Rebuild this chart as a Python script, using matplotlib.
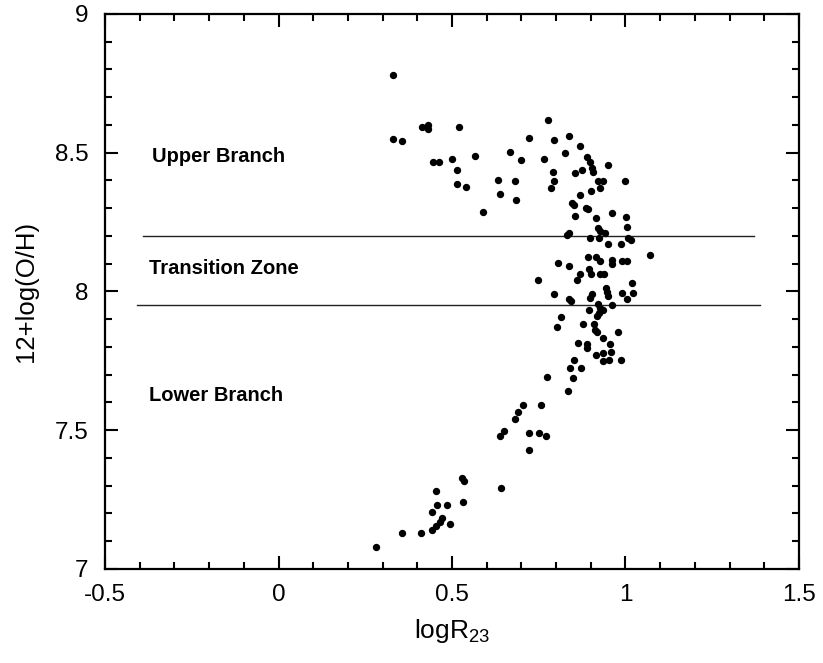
import matplotlib
matplotlib.use("Agg")
import matplotlib.pyplot as plt
from matplotlib.ticker import MultipleLocator

# logR23 and 12+log(O/H) for each galaxy
log_r23 = [
    0.331, 0.413, 0.432, 0.430, 0.519, 0.331, 0.357, 0.446, 0.463, 0.501,
    0.565, 0.514, 0.515, 0.540, 0.589, 0.633, 0.638, 0.776, 0.722, 0.793,
    0.836, 0.667, 0.698, 0.765, 0.825, 0.868, 0.889, 0.899, 0.950, 0.903,
    0.907, 0.874, 0.855, 0.792, 0.793, 0.785, 0.681, 0.685, 0.922, 0.934,
    0.927, 0.900, 0.869, 0.999, 0.846, 0.852, 0.886, 0.893, 0.960, 0.855,
    0.914, 1.001, 1.004, 0.922, 0.927, 0.940, 0.836, 0.832, 0.897, 0.925,
    0.951, 0.986, 1.008, 1.016, 1.071, 0.891, 0.915, 0.927, 0.960, 0.962,
    0.989, 1.003, 0.806, 0.837, 0.869, 0.895, 0.901, 0.927, 0.938, 0.747,
    0.861, 1.020, 0.944, 0.948, 0.950, 0.989, 1.023, 1.003, 0.795, 0.903,
    0.898, 0.838, 0.844, 0.920, 0.960, 0.927, 0.934, 0.895, 0.925, 0.813,
    0.917, 0.802, 0.878, 0.909, 0.912, 0.919, 0.978, 0.936, 0.864, 0.888,
    0.890, 0.955, 0.957, 0.915, 0.934, 0.934, 0.953, 0.987, 0.852, 0.840,
    0.871, 0.775, 0.850, 0.834, 0.706, 0.691, 0.757, 0.682, 0.651, 0.638,
    0.721, 0.752, 0.771, 0.721, 0.530, 0.535, 0.640, 0.453, 0.531, 0.458,
    0.486, 0.443, 0.470, 0.465, 0.454, 0.441, 0.494, 0.410, 0.355, 0.280,
]
oh = [
    8.779, 8.594, 8.600, 8.585, 8.594, 8.548, 8.541, 8.467, 8.468, 8.479,
    8.487, 8.437, 8.387, 8.376, 8.288, 8.402, 8.351, 8.617, 8.554, 8.545,
    8.561, 8.504, 8.474, 8.476, 8.500, 8.523, 8.486, 8.466, 8.457, 8.446,
    8.430, 8.437, 8.426, 8.430, 8.398, 8.373, 8.397, 8.329, 8.398, 8.398,
    8.372, 8.363, 8.348, 8.398, 8.320, 8.311, 8.300, 8.297, 8.284, 8.272,
    8.266, 8.270, 8.232, 8.228, 8.218, 8.212, 8.210, 8.203, 8.194, 8.194,
    8.171, 8.171, 8.194, 8.186, 8.132, 8.123, 8.125, 8.111, 8.114, 8.098,
    8.111, 8.111, 8.103, 8.093, 8.064, 8.081, 8.063, 8.063, 8.064, 8.041,
    8.041, 8.032, 8.012, 7.999, 7.985, 7.994, 7.994, 7.973, 7.991, 7.990,
    7.978, 7.973, 7.966, 7.955, 7.951, 7.939, 7.933, 7.932, 7.921, 7.909,
    7.912, 7.871, 7.883, 7.882, 7.861, 7.853, 7.853, 7.834, 7.813, 7.811,
    7.795, 7.811, 7.783, 7.771, 7.779, 7.751, 7.753, 7.753, 7.753, 7.723,
    7.723, 7.693, 7.687, 7.640, 7.592, 7.567, 7.591, 7.542, 7.498, 7.480,
    7.491, 7.491, 7.480, 7.430, 7.327, 7.318, 7.292, 7.281, 7.240, 7.231,
    7.231, 7.207, 7.183, 7.170, 7.156, 7.141, 7.162, 7.131, 7.131, 7.080,
]

# branch boundaries: (y, x_start, x_end)
zone_lines = [(8.2, -0.39, 1.37), (7.95, -0.408, 1.388)]
zone_labels = ["Upper Branch", "Transition Zone", "Lower Branch"]
zone_label_y = [8.467, 8.063, 7.605]
zone_label_x = [-0.365, -0.373, -0.373]


def main():
    plt.rcParams['font.family'] = ['Liberation Sans', 'DejaVu Sans']
    fig = plt.figure(figsize=(8.23, 6.63), dpi=100)
    ax = fig.add_axes([0.1276, 0.1418, 0.8432, 0.8371])

    ax.scatter(log_r23, oh, s=28, color='black', linewidths=0, zorder=3)

    for y, x0, x1 in zone_lines:
        ax.plot([x0, x1], [y, y], color='#222222', linewidth=1.0)

    for label, x, y in zip(zone_labels, zone_label_x, zone_label_y):
        ax.text(x, y, label, fontsize=14.5, fontweight='bold', ha='left', va='baseline')

    ax.set_xlim(-0.5, 1.5)
    ax.set_ylim(7, 9)
    ax.xaxis.set_minor_locator(MultipleLocator(0.1))
    ax.yaxis.set_minor_locator(MultipleLocator(0.1))
    ax.set_xticks([-0.5, 0, 0.5, 1, 1.5])
    ax.set_yticks([7, 7.5, 8, 8.5, 9])
    ax.set_xticklabels(['-0.5', '0', '0.5', '1', '1.5'])
    ax.set_yticklabels(['7', '7.5', '8', '8.5', '9'])

    ax.tick_params(which='both', direction='in', top=True, right=True, width=1.5)
    ax.tick_params(which='major', length=9.5, labelsize=17.5)
    ax.tick_params(which='minor', length=5)
    ax.tick_params(axis='x', which='major', pad=11)
    ax.tick_params(axis='y', which='major', pad=12)
    for side in ax.spines.values():
        side.set_linewidth(1.6)

    ax.set_xlabel(r'logR$_{\mathregular{23}}$', fontsize=19, labelpad=8)
    ax.set_ylabel('12+log(O/H)', fontsize=18.5, labelpad=12)

    fig.savefig('out.png', dpi=100)


if __name__ == '__main__':
    main()
